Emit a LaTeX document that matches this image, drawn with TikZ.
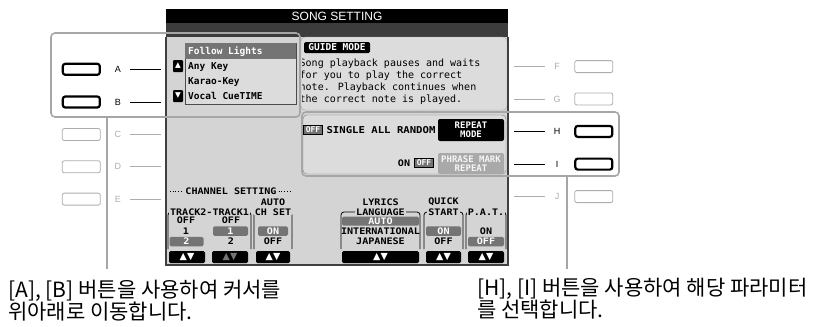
\documentclass[tikz,border=0pt]{standalone}
\usepackage{fontspec}
\setmainfont{Liberation Sans}
\newfontfamily\lcdfont{DejaVu Sans Mono}
\newfontfamily\lcdwide{DejaVu Sans Mono}[FakeStretch=1.12]
\newfontfamily\symfont{DejaVu Sans}
\newfontfamily\kofont{Noto Sans CJK KR}
\usetikzlibrary{matrix}
\definecolor{lcdbg}{HTML}{D4D4D4}
\definecolor{lcdpanel}{HTML}{DCDCDC}
\definecolor{darkbar}{HTML}{3C3C3C}
\definecolor{selbar}{HTML}{747474}
\definecolor{hilite}{HTML}{A6A6A6}
\definecolor{dimtext}{HTML}{ADADAD}
\definecolor{phrasebg}{HTML}{A9A9A9}

\begin{document}
\begin{tikzpicture}[x=1pt,y=-1pt,
  btnon/.style={draw=black,line width=2.2pt,rounded corners=2.5pt,fill=white,minimum width=37pt,minimum height=11pt,inner sep=0pt,outer sep=0pt},
  btnoff/.style={draw=dimtext,line width=0.8pt,rounded corners=2pt,fill=white,minimum width=38pt,minimum height=12pt,inner sep=0pt,outer sep=0pt},
  keyon/.style={font=\fontsize{9}{9}\selectfont,minimum width=24pt,minimum height=12pt,inner sep=0pt,outer sep=0pt},
  keyoff/.style={keyon,text=dimtext},
  frm/.style={draw=hilite,line width=1.6pt,rounded corners=4pt,inner sep=0pt,outer sep=0pt,anchor=north west},
  linkon/.style={draw=black,line width=0.8pt},
  linkoff/.style={draw=dimtext,line width=0.8pt},
  pointer/.style={draw=hilite,line width=1.4pt},
  lcdtxt/.style={font=\lcdfont\bfseries\fontsize{9.5}{9.5}\selectfont,inner sep=0pt},
  lcdbig/.style={font=\lcdwide\bfseries\fontsize{9}{9}\selectfont,inner sep=0pt},
  guide/.style={font=\lcdfont\fontsize{10}{12}\selectfont,inner sep=0pt},
  selv/.style={lcdbig,fill=selbar,text=white,rounded corners=1.5pt,minimum height=9.5pt},
  offbox/.style={font=\lcdfont\bfseries\fontsize{8}{8}\selectfont,inner sep=0pt,fill=selbar,text=white,draw=black,line width=0.5pt,minimum width=19pt,minimum height=9pt},
  grp/.style={draw=black,line width=0.8pt,rounded corners=3pt},
  ttl/.style={lcdbig,fill=lcdbg,inner xsep=1pt},
  arrbox/.style={fill=black,text=white,rounded corners=1pt,minimum width=10pt,minimum height=12pt,inner sep=0pt,font=\symfont\fontsize{7.5}{7.5}\selectfont},
  udbtn/.style={fill=black,text=white,rounded corners=1.5pt,minimum height=12pt,inner sep=0pt,font=\symfont\fontsize{9.5}{9.5}\selectfont},
  note/.style={font=\kofont\fontsize{21}{22}\selectfont,align=left,inner sep=0pt,anchor=north west}]
  \useasboundingbox (0,0) rectangle (815,327);
  \fill[lcdbg] (166,9) rectangle (508,265);
  \fill[black] (166,9) rectangle (508,23);
  \fill[darkbar] (166,23) rectangle (508,37);
  \node (title) [font=\fontsize{12}{12}\selectfont,text=white] at (337,16) {SONG SETTING};
  \filldraw[fill=lcdpanel,draw=gray!70,rounded corners=4pt] (301,37) rectangle (507,110);
  \filldraw[fill=lcdpanel,draw=gray,rounded corners=4pt] (303,115) rectangle (506,174);
  \draw[black!75,line width=1.2pt] (166,37) -- (166,265) -- (508,265) -- (508,37);

  \filldraw[fill=lcdpanel,draw=black!70,line width=0.8pt] (185,43) rectangle (296,104);
  \fill[selbar] (185.4,43.4) rectangle (295.6,58.5);
  \node (li1) [lcdtxt,anchor=base west,text=white] at (188,54.5) {Follow Lights};
  \node (li2) [lcdtxt,anchor=base west] at (188,69.5) {Any Key};
  \node (li3) [lcdtxt,anchor=base west] at (188,84.5) {Karao-Key};
  \node (li4) [lcdtxt,anchor=base west] at (188,99.5) {Vocal CueTIME};
  \node (up) [arrbox] at (178,66) {▲};
  \node (down) [arrbox] at (178,96) {▼};

  \node (gmode) [lcdtxt,fill=black,text=white,rounded corners=1.5pt,minimum width=66pt,minimum height=11pt] at (337,47.5) {GUIDE MODE};
  \begin{scope}
    \clip (302,37) rectangle (507,110);
    \foreach \t [count=\i] in {Song playback pauses and waits,for you to play the correct,note. Playback continues when,the correct note is played.}
      \node (gd\i) [guide,anchor=base west] at (299.5,54+12*\i) {\t};
  \end{scope}

  \node (off1) [offbox] at (313,130) {OFF};
  \node (mode) [lcdbig,font=\lcdwide\bfseries\fontsize{9.5}{9.5}\selectfont] at (381,130) {SINGLE ALL RANDOM};
  \node (rptmode) [fill=black,text=white,rounded corners=2pt,minimum width=66pt,minimum height=22pt,inner sep=0pt,align=center,font=\lcdfont\bfseries\fontsize{9}{8.5}\selectfont] at (471,130) {REPEAT\\MODE};
  \node (on2) [lcdbig] at (404,163) {ON};
  \node (off2) [offbox] at (424,163) {OFF};
  \node (phrase) [fill=phrasebg,text=white!92!gray,rounded corners=2pt,minimum width=66pt,minimum height=21pt,inner sep=0pt,align=center,font=\lcdfont\bfseries\fontsize{9}{8.5}\selectfont] at (471,163.5) {PHRASE MARK\\REPEAT};

  \node (chs) [lcdbig,inner xsep=2pt] at (231,191) {CHANNEL SETTING};
  \coordinate (chsL) at (170,191);
  \coordinate (chsR) at (292,191);
  \draw[dotted,line width=0.7pt] (chsL) -- (chs.west) (chs.east) -- (chsR);

  \draw[grp] (168,249) |- (251,212) -- (251,249);
  \draw[grp] (254,249) |- (292,212) -- (292,249);
  \draw[grp] (341,249) |- (420,212) -- (420,249);
  \draw[grp] (424,249) |- (463,212) -- (463,249);
  \draw[grp] (466,249) |- (506,212) -- (506,249);
  \node (trk) [ttl] at (209.5,212) {TRACK2-TRACK1};
  \node (csauto) [lcdbig] at (273,202) {AUTO};
  \node (csttl) [ttl] at (273,212) {CH SET};
  \node (lyr) [lcdbig] at (380.5,202) {LYRICS};
  \node (lang) [ttl] at (380.5,212) {LANGUAGE};
  \node (qs) [lcdbig] at (443.5,202) {QUICK};
  \node (start) [ttl] at (443.5,212) {START};
  \node (pat) [ttl] at (486,212) {P.A.T.};

  \node (t2off) [lcdbig] at (186,220.5) {OFF};
  \node (t2one) [lcdbig] at (186,231) {1};
  \node (t2two) [selv,minimum width=34pt] at (186.5,241.5) {2};
  \node (t1off) [lcdbig] at (231,220.5) {OFF};
  \node (t1one) [selv,minimum width=35pt] at (230.5,231) {1};
  \node (t1two) [lcdbig] at (231,241.5) {2};
  \node (cson) [selv,minimum width=30pt] at (273,231) {ON};
  \node (csoff) [lcdbig] at (273,241.5) {OFF};
  \node (lyauto) [selv,minimum width=77pt,minimum height=9pt] at (380.5,221) {AUTO};
  \node (lyint) [lcdbig] at (380.5,231.5) {INTERNATIONAL};
  \node (lyjap) [lcdbig] at (380.5,241.5) {JAPANESE};
  \node (qson) [selv,minimum width=35pt] at (443.5,231) {ON};
  \node (qsoff) [lcdbig] at (443.5,241.5) {OFF};
  \node (paton) [lcdbig] at (486,231) {ON};
  \node (patoff) [selv,minimum width=36pt] at (486,241.5) {OFF};

  \node (ud1) [udbtn,minimum width=36pt] at (187,257) {▲▼};
  \node (ud2) [udbtn,minimum width=36pt,text=selbar] at (230,257) {▲▼};
  \node (ud3) [udbtn,minimum width=34pt] at (273,257) {▲▼};
  \node (ud4) [udbtn,minimum width=77pt] at (380.5,257) {▲▼};
  \node (ud5) [udbtn,minimum width=35pt] at (443.5,257) {▲▼};
  \node (ud6) [udbtn,minimum width=36pt] at (486,257) {▲▼};

  \node (frmAB) [frm,minimum width=249pt,minimum height=84pt] at (51,33) {};
  \node (frmHI) [frm,minimum width=317pt,minimum height=64pt] at (302,112) {};

  \matrix (lb) [matrix of nodes,ampersand replacement=\&,anchor=north west,inner sep=0pt,row sep=19.5pt,column sep=5pt,nodes={anchor=center}] at (61.5,62.5)
  {
    |[btnon]| {} \& |[keyon]| A \\
    |[btnon]| {} \& |[keyon]| B \\
    |[btnoff]| {} \& |[keyoff]| C \\
    |[btnoff]| {} \& |[keyoff]| D \\
    |[btnoff]| {} \& |[keyoff]| E \\
  };
  \matrix (rb) [matrix of nodes,ampersand replacement=\&,anchor=north west,inner sep=0pt,row sep=19.5pt,column sep=5pt,nodes={anchor=center}] at (545,60)
  {
    |[keyoff]| F \& |[btnoff]| {} \\
    |[keyoff]| G \& |[btnoff]| {} \\
    |[keyon]| H \& |[btnon]| {} \\
    |[keyon]| I \& |[btnon]| {} \\
    |[keyoff]| J \& |[btnoff]| {} \\
  };
  \coordinate (tipL) at (161,0);
  \coordinate (tipR) at (514,0);
  \path[linkon]
  (lb-1-2.east) edge (lb-1-2.east -| tipL)
  (lb-2-2.east) edge (lb-2-2.east -| tipL)
  (rb-3-1.west -| tipR) edge (rb-3-1.west)
  (rb-4-1.west -| tipR) edge (rb-4-1.west)
  ;
  \path[linkoff]
  (lb-3-2.east) edge (lb-3-2.east -| tipL)
  (lb-4-2.east) edge (lb-4-2.east -| tipL)
  (lb-5-2.east) edge (lb-5-2.east -| tipL)
  (rb-1-1.west -| tipR) edge (rb-1-1.west)
  (rb-2-1.west -| tipR) edge (rb-2-1.west)
  (rb-5-1.west -| tipR) edge (rb-5-1.west)
  ;

  \coordinate (endAB) at (107,269);
  \coordinate (endHI) at (567,269);
  \draw[pointer] (frmAB.south -| endAB) -- (endAB);
  \draw[pointer] (frmHI.south -| endHI) -- (endHI);
  \node (noteAB) [note] at (8,280) {[A], [B] 버튼을 사용하여 커서를\\위아래로 이동합니다.};
  \node (noteHI) [note] at (477,278) {[H], [I] 버튼을 사용하여 해당 파라미터\\를 선택합니다.};
\end{tikzpicture}
\end{document}
